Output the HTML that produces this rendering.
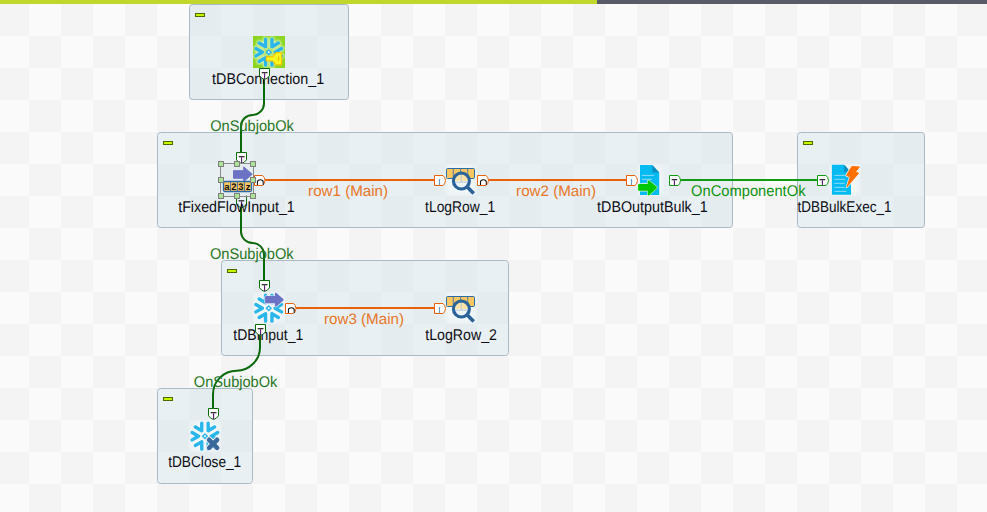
<!DOCTYPE html>
<html><head><meta charset="utf-8">
<style>
html,body{margin:0;padding:0;width:987px;height:512px;overflow:hidden;background:#fafafa}
svg{display:block;position:absolute;left:0;top:0}
text{font-family:"Liberation Sans",sans-serif;text-rendering:geometricPrecision}
.lbl{font-size:15.5px;fill:#0c0c14}
.on{font-size:15.5px;fill:#267626}
.oc{font-size:15.5px;fill:#0f920f}
.rw{font-size:15.2px;fill:#e8762a}
</style></head>
<body>
<svg width="987" height="512" viewBox="0 0 987 512">
<defs>
  <pattern id="chk" x="-3" y="4" width="64" height="64" patternUnits="userSpaceOnUse">
    <rect x="0" y="0" width="64" height="64" fill="#fafafa"/>
    <rect x="0" y="0" width="32" height="32" fill="#f4f4f4"/>
    <rect x="32" y="32" width="32" height="32" fill="#f4f4f4"/>
  </pattern>
  <g id="flake" fill="none" stroke="#29b6ea" stroke-width="3.4" stroke-linecap="round" stroke-linejoin="round">
    <path d="M22.15,16.20 L28.56,19.90 M22.15,16.20 L28.56,12.50"/>
    <path d="M18.95,10.66 L25.36,6.96 M18.95,10.66 L18.95,3.26"/>
    <path d="M12.55,10.66 L12.55,3.26 M12.55,10.66 L6.14,6.96"/>
    <path d="M9.35,16.20 L2.94,12.50 M9.35,16.20 L2.94,19.90"/>
    <path d="M12.55,21.74 L6.14,25.44 M12.55,21.74 L12.55,29.14"/>
    <path d="M18.95,21.74 L18.95,29.14 M18.95,21.74 L25.36,25.44"/>
    <path d="M15.75,12.899999999999999 l3.3,3.3 l-3.3,3.3 l-3.3,-3.3 z" fill="#29b6ea" stroke="none"/>
    <circle cx="15.75" cy="16.2" r="1.0" fill="#ffffff" stroke="none"/>
  </g>
  <g id="flakehalo" fill="none" stroke="#e2f6c6" stroke-width="5.2" stroke-linecap="round" stroke-linejoin="round">
    <path d="M22.15,16.20 L28.56,19.90 M22.15,16.20 L28.56,12.50"/>
    <path d="M18.95,10.66 L25.36,6.96 M18.95,10.66 L18.95,3.26"/>
    <path d="M12.55,10.66 L12.55,3.26 M12.55,10.66 L6.14,6.96"/>
    <path d="M9.35,16.20 L2.94,12.50 M9.35,16.20 L2.94,19.90"/>
    <path d="M12.55,21.74 L6.14,25.44 M12.55,21.74 L12.55,29.14"/>
    <path d="M18.95,21.74 L18.95,29.14 M18.95,21.74 L25.36,25.44"/>
    <path d="M15.75,12.899999999999999 l3.3,3.3 l-3.3,3.3 l-3.3,-3.3 z" fill="#e2f6c6" stroke="none"/>
    <circle cx="15.75" cy="16.2" r="1.0" fill="#e2f6c6" stroke="none"/>
  </g>
</defs>

<!-- background -->
<rect x="0" y="0" width="987" height="512" fill="url(#chk)"/>
<rect x="0" y="0" width="597" height="4" fill="#c2d72c"/>
<rect x="597" y="0" width="390" height="4" fill="#575c68"/>

<!-- subjob boxes -->
<g fill="rgba(188,216,226,0.29)" stroke="#a9bac8" stroke-width="1">
  <rect x="189.5" y="4.5" width="159" height="95" rx="3"/>
  <rect x="157.5" y="132.5" width="575" height="95" rx="3"/>
  <rect x="797.5" y="132.5" width="127" height="95" rx="3"/>
  <rect x="221.5" y="260.5" width="287" height="95" rx="3"/>
  <rect x="157.5" y="388.5" width="95" height="95" rx="3"/>
</g>
<!-- minus markers -->
<g fill="#c6f500" stroke="#4d6b00" stroke-width="1">
  <rect x="195.5" y="13.5" width="9" height="3"/>
  <rect x="163.5" y="141.5" width="9" height="3"/>
  <rect x="803.5" y="141.5" width="9" height="3"/>
  <rect x="227.5" y="269.5" width="9" height="3"/>
  <rect x="163.5" y="397.5" width="9" height="3"/>
</g>


<!-- ===== connections ===== -->
<g fill="none" stroke-width="2">
  <path d="M264,79 V103.4 A11.5,11.5 0 0 1 252.5,114.9 A11.5,11.5 0 0 0 241,126.4 V152" stroke="#0a6a0a"/>
  <path d="M241,207 V231.5 A11.5,11.5 0 0 0 252.5,243 A11.5,11.5 0 0 1 264,254.5 V280" stroke="#0a6a0a"/>
  <path d="M260,335 V347.2 A23.5,23.5 0 0 1 236.5,370.7 A23.5,23.5 0 0 0 213,394.2 V408" stroke="#0a6a0a"/>
  <path d="M264.5,180 H434" stroke="#e8620c"/>
  <path d="M488,180 H626" stroke="#e8620c"/>
  <path d="M680,180 H817" stroke="#129a12"/>
  <path d="M296,308 H434" stroke="#e8620c"/>
</g>

<!-- transparent bottom T of tFixedFlowInput -->
<path d="M236.5,195.5 V204.6 Q238.8,207 241.5,207.8 Q244.2,207 246.5,204.6 V195.5" fill="none" stroke="#0a6a0a" stroke-width="1"/>
<path d="M238.5,200.8 h5.8" stroke="#111" stroke-width="1.1"/><path d="M241.5,201.3 v6.2" stroke="#5a1670" stroke-width="1.1"/>

<!-- link labels -->
<text class="on" x="252" y="130.5" text-anchor="middle" textLength="83.6" lengthAdjust="spacingAndGlyphs">OnSubjobOk</text>
<text class="on" x="251.8" y="258.7" text-anchor="middle" textLength="83.8" lengthAdjust="spacingAndGlyphs">OnSubjobOk</text>
<text class="on" x="235.6" y="386.5" text-anchor="middle" textLength="83.5" lengthAdjust="spacingAndGlyphs">OnSubjobOk</text>
<text class="rw" x="348.1" y="195.8" text-anchor="middle" textLength="80" lengthAdjust="spacingAndGlyphs">row1 (Main)</text>
<text class="rw" x="556.1" y="195.8" text-anchor="middle" textLength="80" lengthAdjust="spacingAndGlyphs">row2 (Main)</text>
<text class="rw" x="364" y="323.8" text-anchor="middle" textLength="80" lengthAdjust="spacingAndGlyphs">row3 (Main)</text>
<text class="oc" x="748.3" y="195.6" text-anchor="middle" textLength="114.4" lengthAdjust="spacingAndGlyphs">OnComponentOk</text>

<!-- component labels -->
<text class="lbl" x="268.1" y="83.5" text-anchor="middle" textLength="112" lengthAdjust="spacingAndGlyphs">tDBConnection_1</text>
<text class="lbl" x="236.5" y="212" text-anchor="middle" textLength="116.6" lengthAdjust="spacingAndGlyphs">tFixedFlowInput_1</text>
<text class="lbl" x="460.1" y="211.8" text-anchor="middle" textLength="70" lengthAdjust="spacingAndGlyphs">tLogRow_1</text>
<text class="lbl" x="652.4" y="211.8" text-anchor="middle" textLength="110.6" lengthAdjust="spacingAndGlyphs">tDBOutputBulk_1</text>
<text class="lbl" x="844.5" y="211.8" text-anchor="middle" textLength="94" lengthAdjust="spacingAndGlyphs">tDBBulkExec_1</text>
<text class="lbl" x="268.3" y="339.5" text-anchor="middle" textLength="70.1" lengthAdjust="spacingAndGlyphs">tDBInput_1</text>
<text class="lbl" x="461.1" y="339.6" text-anchor="middle" textLength="71.8" lengthAdjust="spacingAndGlyphs">tLogRow_2</text>
<text class="lbl" x="204.7" y="467.3" text-anchor="middle" textLength="73.1" lengthAdjust="spacingAndGlyphs">tDBClose_1</text>

<!-- ===== icons ===== -->
<!-- faint icon backgrounds -->
<filter id="soft" x="-30%" y="-30%" width="160%" height="160%"><feGaussianBlur stdDeviation="2"/></filter>
<g fill="#ffffff" fill-opacity="0.45" filter="url(#soft)">
  <rect x="191" y="422" width="28" height="28" rx="6"/>
  <rect x="255" y="294" width="28" height="28" rx="6"/>
  <rect x="446" y="166" width="28" height="28" rx="6"/>
  <rect x="446" y="294" width="28" height="28" rx="6"/>
  <rect x="638" y="166" width="24" height="28" rx="6"/>
  <rect x="830.5" y="166" width="28" height="28" rx="6"/>
</g>

<!-- tDBConnection_1 -->
<g transform="translate(253,36)">
  <defs><filter id="blur1" x="-20%" y="-20%" width="140%" height="140%"><feGaussianBlur stdDeviation="1.1"/></filter><radialGradient id="gg" cx="0.5" cy="0.5" r="0.6"><stop offset="0" stop-color="#f0fae0"/><stop offset="0.55" stop-color="#c4ec7a"/><stop offset="1" stop-color="#84d21c"/></radialGradient></defs>
  <rect x="0" y="0" width="32" height="32" fill="#8cd622"/>
  <g filter="url(#blur1)"><use href="#flakehalo"/></g>
  <use href="#flake"/>
  <path d="M13.9,20.6 h5.9 l3.1,-3.9 h5.2 q0.6,0 0.6,0.6 v11 q0,0.6 -0.6,0.6 h-5.2 l-3.1,-3.9 h-5.9 q-0.6,0 -0.6,-0.6 v-3.2 q0,-0.6 0.6,-0.6 z" fill="#f8f61e" stroke="#f2c200" stroke-width="1.2" stroke-linejoin="round"/><path d="M25.6,20.4 v4.2" stroke="#e8b800" stroke-width="1.1"/>
</g>
<!-- tFixedFlowInput_1 -->
<g transform="translate(221,164)">
  <path d="M12.5,6.7 H22.7 V2.9 L31.2,10.2 L22.7,17.6 V14.25 H12.5 Z" fill="#6c72c4" stroke="#6c72c4" stroke-width="1" stroke-linejoin="round"/>
  <rect x="2.5" y="17.5" width="28" height="10" rx="1.5" fill="#f7c462" stroke="#2a68a6" stroke-width="1.3"/>
  <path d="M9.5,17.5 v10 M16.5,17.5 v10 M23.5,17.5 v10" stroke="#2a68a6" stroke-width="0.8"/>
  <text x="6" y="25.8" font-size="9.5" font-weight="bold" text-anchor="middle" fill="#111">a</text>
  <text x="13" y="25.8" font-size="9.5" font-weight="bold" text-anchor="middle" fill="#111">2</text>
  <text x="20" y="25.8" font-size="9.5" font-weight="bold" text-anchor="middle" fill="#111">3</text>
  <text x="27" y="25.8" font-size="9.5" font-weight="bold" text-anchor="middle" fill="#111">z</text>
</g>
<!-- tLogRow icons -->
<g id="logrow" transform="translate(444,164)">
  <rect x="2.5" y="4.5" width="28" height="10" rx="1" fill="#f9c660" stroke="#2c6aa6" stroke-width="1"/>
  <path d="M9.3,4.5 v10 M16.6,4.5 v10 M23.7,4.5 v10" stroke="#2c6aa6" stroke-width="0.8"/>
  <circle cx="17.4" cy="17" r="7" fill="#eef3f6"/>
  <path d="M10.5,17 a6.8,6.8 0 0 1 13.6,0 z" fill="#fbe2a8"/>
  <path d="M17.3,10 v8 M10.5,18.2 h13.6" stroke="#a9c0d6" stroke-width="0.8"/>
  <circle cx="17.4" cy="17" r="8" fill="none" stroke="#2a6399" stroke-width="3.1"/>
  <path d="M23.3,23 l6.4,6.6" stroke="#2a6399" stroke-width="3.6"/>
</g>
<use href="#logrow" transform="translate(0,128)"/>
<!-- tDBOutputBulk_1 -->
<g transform="translate(636,164)">
  <path d="M4,1 h12.3 l6.9,7.5 v22.5 h-19.2 z" fill="#05bbf2"/>
  <path d="M16.3,1 v7.5 h6.9 z" fill="#0b8fc3"/>
  <path d="M6,11.4 h12 M6,15.3 h10 M6,19.3 h11" stroke="#8fdcf8" stroke-width="1"/>
  <path d="M3,20.8 H12.6 V17.3 L20.1,23.5 L12.6,30.5 V25.9 H3 Z" fill="#00c800" stroke="#d8f4dc" stroke-width="3" stroke-linejoin="round"/><path d="M3,20.8 H12.6 V17.3 L20.1,23.5 L12.6,30.5 V25.9 H3 Z" fill="#00c800" stroke="#00c800" stroke-width="1.8" stroke-linejoin="round"/>
</g>
<!-- tDBBulkExec_1 -->
<g transform="translate(828.5,164)">
  <path d="M3.4,0.8 h12.2 l6.9,7.5 v22.5 h-19.1 z" fill="#05bbf2"/>
  <path d="M15.6,0.8 v7.5 h6.9 z" fill="#0b8fc3"/>
  <path d="M5.8,11.4 h10.5 M5.8,15.3 h10.5 M5.8,19.3 h10.5 M5.8,23.3 h10.5 M5.8,27.4 h12" stroke="#8fdcf8" stroke-width="1"/>
  <path d="M23.35,2.4 L31,2.9 L26.9,8.1 L30.2,9.2 L18.4,22.9 L21.7,13.05 L17.9,11.4 Z" fill="none" stroke="#f4f8fa" stroke-width="2.2" stroke-linejoin="round"/><path d="M23.35,2.4 L31,2.9 L26.9,8.1 L30.2,9.2 L18.4,22.9 L21.7,13.05 L17.9,11.4 Z" fill="#ff7000" stroke="#ff7000" stroke-width="0.9" stroke-linejoin="round"/>
</g>
<!-- tDBInput_1 -->
<g transform="translate(253,292)">
  <use href="#flake"/>
  <path d="M13,5 H22.8 V1.7 L29.7,7.7 L22.8,13.75 V10.4 H13 Z" fill="#6c72c4" stroke="#e6eaf6" stroke-width="3.2" stroke-linejoin="round"/><path d="M13,5 H22.8 V1.7 L29.7,7.7 L22.8,13.75 V10.4 H13 Z" fill="#6c72c4" stroke="#6c72c4" stroke-width="1.8" stroke-linejoin="round"/>
</g>
<!-- tDBClose_1 -->
<g transform="translate(189.2,420)">
  <use href="#flake"/>
  <path d="M19.9,19.8 l8,8 M27.9,19.8 l-8,8" stroke="#eef3f7" stroke-width="6.4" stroke-linecap="round"/>
  <path d="M19.9,19.8 l8,8 M27.9,19.8 l-8,8" stroke="#3a6a9c" stroke-width="4.6" stroke-linecap="round"/>
</g>



<!-- ===== connectors ===== -->
<defs>
  <g id="cdown"><path d="M0.5,0.5 h10 v7.5 l-2.5,2.5 h-5 l-2.5,-2.5 z" fill="#fff"/></g>
</defs>
<g stroke-width="1" fill="#ffffff">
  <!-- trigger connectors pointing down -->
  <path d="M259.5,68.5 h10 v7.3 q-2,3 -5,3.6 q-3,-0.6 -5,-3.6 z" stroke="#0a6a0a"/>
  <path d="M236.5,152.5 h10 v7.3 q-2,3 -5,3.6 q-3,-0.6 -5,-3.6 z" stroke="#0a6a0a"/>
  <path d="M259.5,280.5 h10 v7.3 q-2,3 -5,3.6 q-3,-0.6 -5,-3.6 z" stroke="#0a6a0a"/>
  <path d="M255.5,324.5 h10 v7.3 q-2,3 -5,3.6 q-3,-0.6 -5,-3.6 z" stroke="#0a6a0a"/>
  <path d="M208.5,408.5 h10 v7.3 q-2,3 -5,3.6 q-3,-0.6 -5,-3.6 z" stroke="#0a6a0a"/>
  <!-- row connectors pointing right -->
  <path d="M254.5,175.5 h8 q2.2,1.6 2.5,5 q-0.3,3.4 -2.5,5 h-8 z" stroke="#e8620c"/>
  <path d="M434.5,175.5 h8.5 q2.2,1.6 2.5,5 q-0.3,3.4 -2.5,5 h-8.5 z" stroke="#e8620c"/>
  <path d="M477.5,175.5 h8.5 q2.2,1.6 2.5,5 q-0.3,3.4 -2.5,5 h-8.5 z" stroke="#e8620c"/>
  <path d="M626.5,175.5 h8.5 q2.2,1.6 2.5,5 q-0.3,3.4 -2.5,5 h-8.5 z" stroke="#e8620c"/>
  <path d="M285.5,303.5 h8 q2.2,1.6 2.5,5 q-0.3,3.4 -2.5,5 h-8 z" stroke="#e8620c"/>
  <path d="M434.5,303.5 h8.5 q2.2,1.6 2.5,5 q-0.3,3.4 -2.5,5 h-8.5 z" stroke="#e8620c"/>
  <!-- trigger connectors pointing right -->
  <path d="M669.5,175.5 h8.5 q2.2,1.6 2.5,5 q-0.3,3.4 -2.5,5 h-8.5 z" stroke="#129a12"/>
  <path d="M817.5,175.5 h8.5 q2.2,1.6 2.5,5 q-0.3,3.4 -2.5,5 h-8.5 z" stroke="#129a12"/>
</g>
<!-- connector glyphs -->
<g stroke-width="1.2" fill="none">
  <path d="M261.7,72.7 h5.8" stroke="#111" stroke-width="1.1"/><path d="M264.6,73.2 v6" stroke="#5a1670" stroke-width="1.1"/>
  <path d="M238.7,156.7 h5.8" stroke="#111" stroke-width="1.1"/><path d="M241.6,157.2 v6" stroke="#5a1670" stroke-width="1.1"/>
  <path d="M261.7,284.7 h5.8" stroke="#111" stroke-width="1.1"/><path d="M264.6,285.2 v6" stroke="#5a1670" stroke-width="1.1"/>
  <path d="M257.7,328.7 h5.8" stroke="#111" stroke-width="1.1"/><path d="M260.6,329.2 v6" stroke="#5a1670" stroke-width="1.1"/>
  <path d="M210.7,412.7 h5.8" stroke="#111" stroke-width="1.1"/><path d="M213.6,413.2 v6" stroke="#5a1670" stroke-width="1.1"/>
  <path d="M671.6,179.7 h5.6" stroke="#111" stroke-width="1.1"/><path d="M674.4,180.2 v5.3" stroke="#5a1670" stroke-width="1.1"/>
  <path d="M819.6,179.7 h5.6" stroke="#111" stroke-width="1.1"/><path d="M822.4,180.2 v5.3" stroke="#5a1670" stroke-width="1.1"/>
  <path d="M257.4,185 v-2.9 q0,-2.3 2.9,-2.3 q2.9,0 2.9,2.3 v2.9" stroke="#111" stroke-width="1.05"/>
  <path d="M480.5,185 v-2.9 q0,-2.3 2.9,-2.3 q2.9,0 2.9,2.3 v2.9" stroke="#111" stroke-width="1.05"/>
  <path d="M288.4,313 v-2.9 q0,-2.3 2.9,-2.3 q2.9,0 2.9,2.3 v2.9" stroke="#111" stroke-width="1.05"/>
  <path d="M439.5,179 v6 M631.5,179 v6 M439.5,307 v6" stroke="#6a9ac4"/>
</g>

<!-- ===== selection on tFixedFlowInput ===== -->
<rect x="220.5" y="163.5" width="33" height="33" fill="none" stroke="#8a8a8a" stroke-width="1"/>
<g fill="#ade396" stroke="#7f7f7f" stroke-width="1">
  <rect x="218.5" y="161.5" width="5" height="5"/><rect x="234.5" y="161.5" width="5" height="5"/><rect x="250.5" y="161.5" width="5" height="5"/>
  <rect x="218.5" y="177.5" width="5" height="5"/><rect x="250.5" y="177.5" width="5" height="5"/>
  <rect x="218.5" y="193.5" width="5" height="5"/><rect x="234.5" y="193.5" width="5" height="5"/><rect x="250.5" y="193.5" width="5" height="5"/>
</g>
</svg>
</body></html>
